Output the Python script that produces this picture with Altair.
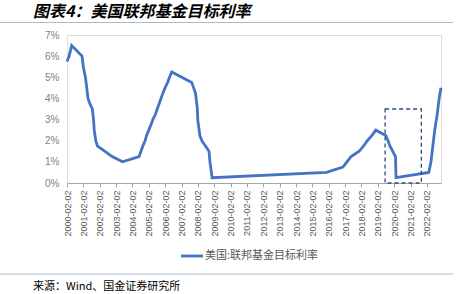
import altair as alt
import pandas as pd

dates = [
    "2000-02-02", "2000-03-21", "2000-05-16",
    "2001-01-03", "2001-01-31", "2001-03-20", "2001-04-18", "2001-05-15", "2001-06-27",
    "2001-08-21", "2001-09-17", "2001-10-02", "2001-11-06", "2001-12-11",
    "2002-11-06", "2003-06-25",
    "2004-06-30", "2004-08-10", "2004-09-21", "2004-11-10", "2004-12-14",
    "2005-02-02", "2005-03-22", "2005-05-03", "2005-06-30", "2005-08-09", "2005-09-20",
    "2005-11-01", "2005-12-13",
    "2006-01-31", "2006-03-28", "2006-05-10", "2006-06-29",
    "2007-09-18", "2007-10-31", "2007-12-11",
    "2008-01-22", "2008-01-30", "2008-03-18", "2008-04-30", "2008-10-08", "2008-10-29",
    "2008-12-16",
    "2015-12-16", "2016-12-14",
    "2017-03-15", "2017-06-14", "2017-12-13",
    "2018-03-21", "2018-06-13", "2018-09-26", "2018-12-19",
    "2019-07-31", "2019-09-18", "2019-10-30",
    "2020-03-03", "2020-03-15",
    "2022-03-16", "2022-05-04", "2022-06-15", "2022-07-27", "2022-09-21", "2022-11-02",
    "2022-12-14",
]
rates = [
    5.75, 6.0, 6.5,
    6.0, 5.5, 5.0, 4.5, 4.0, 3.75,
    3.5, 3.0, 2.5, 2.0, 1.75,
    1.25, 1.0,
    1.25, 1.5, 1.75, 2.0, 2.25,
    2.5, 2.75, 3.0, 3.25, 3.5, 3.75,
    4.0, 4.25,
    4.5, 4.75, 5.0, 5.25,
    4.75, 4.5, 4.25,
    3.5, 3.0, 2.25, 2.0, 1.5, 1.0,
    0.25,
    0.5, 0.75,
    1.0, 1.25, 1.5,
    1.75, 2.0, 2.25, 2.5,
    2.25, 2.0, 1.75,
    1.25, 0.25,
    0.5, 1.0, 1.75, 2.5, 3.25, 4.0,
    4.5,
]
tick_dates = [f"{y}-02-02" for y in range(2000, 2023)]
y_ticks = [0, 1, 2, 3, 4, 5, 6, 7]
series_name = "美国:联邦基金目标利率"
title_text = "图表4：美国联邦基金目标利率"
source_text = "来源：Wind、国金证券研究所"

# highlight box (data coordinates)
box_x = ["2019-07-15"]
box_x2 = ["2021-10-01"]
box_y = [0.0]
box_y2 = [3.5]


def ms(d):
    return int(pd.Timestamp(d).value // 10**6)


df = pd.DataFrame({"date": [ms(d) for d in dates], "rate": [r / 100 for r in rates]})
box_df = pd.DataFrame({"x": [ms(d) for d in box_x], "x2": [ms(d) for d in box_x2],
                       "y": [v / 100 for v in box_y], "y2": [v / 100 for v in box_y2]})

x_scale = alt.Scale(type="utc", domain=[ms("2000-02-02"), ms("2022-12-14")])
y_scale = alt.Scale(domain=[0, 0.07])

x_axis = alt.Axis(
    values=[ms(d) for d in tick_dates],
    labelExpr="utcFormat(datum.value, '%Y-%m-%d')",
    labelAngle=270, labelAlign="right",
    labelBaseline="middle", labelFontSize=9, labelColor="#595959",
    labelFont="Liberation Sans", labelPadding=3,
    domainColor="#A6A6A6", domainWidth=1.2, tickColor="#A6A6A6", tickSize=4,
    grid=False, title=None, labelOverlap=False, labelFlush=False)
y_axis = alt.Axis(
    format=".0%", values=[v / 100 for v in y_ticks], labelOverlap=False,
    labelFontSize=10, labelColor="#7F7F7F", labelFont="Liberation Sans",
    domain=False, ticks=False, grid=False, title=None, labelPadding=8)

line = alt.Chart(df).mark_line(color="#4472C4", strokeWidth=2.8).encode(
    x=alt.X("date:T", scale=x_scale, axis=x_axis),
    y=alt.Y("rate:Q", scale=y_scale, axis=y_axis),
)

box = alt.Chart(box_df).mark_rect(fill=None, filled=False, stroke="#2F4B7C",
                                  strokeWidth=1.3, strokeDash=[4, 3]).encode(
    x=alt.X("x:T", scale=x_scale, axis=x_axis), x2="x2:T",
    y=alt.Y("y:Q", scale=y_scale, axis=y_axis), y2="y2:Q",
)

title = alt.Chart(pd.DataFrame({"t": [title_text]})).mark_text(
    align="left", baseline="middle", fontSize=16, fontWeight="bold", fontStyle="italic",
    font="Noto Sans CJK SC", color="#000000").encode(
    x=alt.value(-34), y=alt.value(-23), text="t:N")

rule_top = alt.Chart(pd.DataFrame({"a": [0]})).mark_rule(color="#A7BCD2", strokeWidth=1.2).encode(
    x=alt.value(-67), x2=alt.value(386), y=alt.value(-12.5))
rule_bot = alt.Chart(pd.DataFrame({"a": [0]})).mark_rule(color="#A7BCD2", strokeWidth=1.2).encode(
    x=alt.value(-67), x2=alt.value(386), y=alt.value(239))

source = alt.Chart(pd.DataFrame({"t": [source_text]})).mark_text(
    align="left", baseline="middle", fontSize=11, font="Noto Sans CJK SC",
    color="#000000").encode(x=alt.value(-34), y=alt.value(252), text="t:N")

leg_line = alt.Chart(pd.DataFrame({"a": [0]})).mark_rule(color="#4472C4", strokeWidth=2.8).encode(
    x=alt.value(114), x2=alt.value(136), y=alt.value(221))
leg_text = alt.Chart(pd.DataFrame({"t": [series_name]})).mark_text(
    align="left", baseline="middle", fontSize=11, font="Noto Sans CJK SC",
    color="#595959").encode(x=alt.value(138), y=alt.value(221), text="t:N")

chart = alt.layer(line, box, title, rule_top, rule_bot, source, leg_line, leg_text).properties(
    width=374, height=148,
    padding={"left": 67, "top": 35, "right": 31, "bottom": 111},
    autosize=alt.AutoSizeParams(type="none"),
).configure_view(stroke=None).configure(background="white")

chart.save("out.html", embed_options={"renderer": "svg", "actions": False})
